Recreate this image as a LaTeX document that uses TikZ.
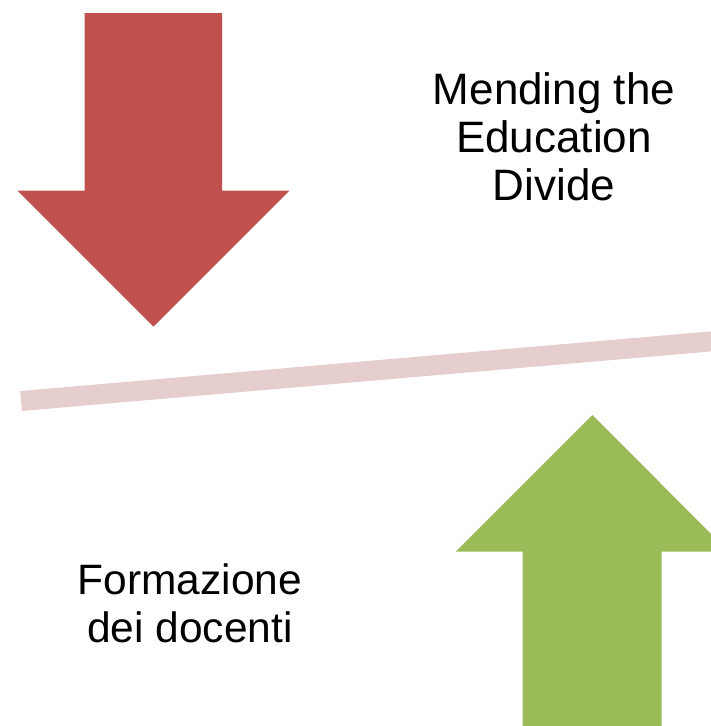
\documentclass[tikz,border=0pt]{standalone}
\usepackage{fontspec}
\setmainfont{Liberation Sans}
\definecolor{arrred}{HTML}{C0504D}
\definecolor{arrgreen}{HTML}{9BBB59}
\definecolor{barpink}{HTML}{E6CDCE}
\begin{document}
\begin{tikzpicture}[x=1pt,y=-1pt,
  label text/.style={align=center,inner sep=0pt,anchor=base,text=black}]
\useasboundingbox (0,0) rectangle (711,726);
\begin{scope}
\clip (0,0) rectangle (711,726);
% balance bar
\draw[barpink,line width=20pt] (21,401) -- (740,338.9);
% red down arrow
\fill[arrred] (84.7,13) -- (222,13) -- (222,190.5) -- (289.7,190.5)
  -- (153.5,326.5) -- (17.3,190.5) -- (84.7,190.5) -- cycle;
% green up arrow
\fill[arrgreen] (522.7,760) -- (522.7,551.7) -- (455.7,551.7) -- (592.3,415)
  -- (728.9,551.7) -- (661.7,551.7) -- (661.7,760) -- cycle;
\end{scope}
\node[label text,font=\fontsize{44}{48}\selectfont] (mend) at (554,200)
  {Mending the\\Education\\Divide};
\node[label text,font=\fontsize{42.5}{48}\selectfont] (form) at (190,642)
  {Formazione\\dei docenti};
\end{tikzpicture}
\end{document}
